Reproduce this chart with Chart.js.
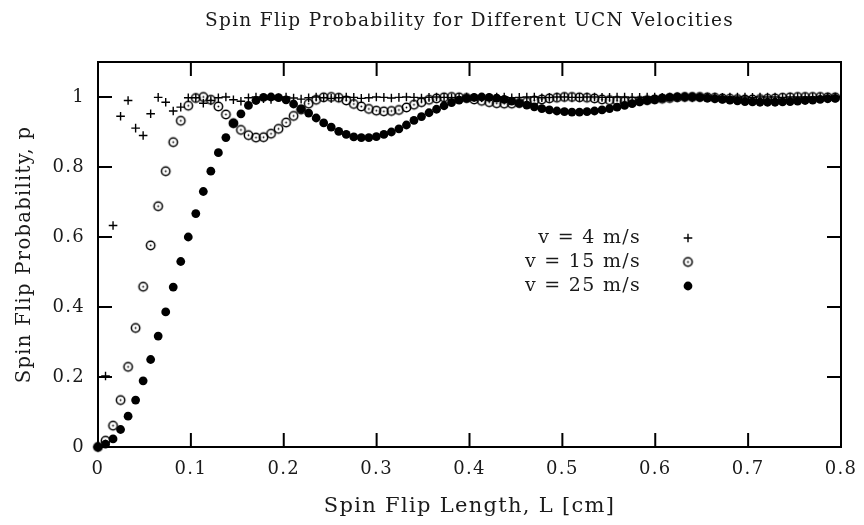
<!DOCTYPE html>
<html><head><meta charset="utf-8">
<script src="https://cdn.jsdelivr.net/npm/chart.js@4/dist/chart.umd.min.js"></script>
<style>html,body{margin:0;padding:0;background:#fff;}canvas{display:block;}</style>
</head><body>
<canvas id="c" width="864" height="525"></canvas>
<script>
// ---- data ----
const lengths = [
  0, 0.0081, 0.0162, 0.0243, 0.0324, 0.0405, 0.0486, 0.0567, 0.0648, 0.0729,
  0.081, 0.0891, 0.0972, 0.1053, 0.1134, 0.1215, 0.1296, 0.1377, 0.1458, 0.1539,
  0.162, 0.1701, 0.1782, 0.1863, 0.1944, 0.2025, 0.2106, 0.2187, 0.2268, 0.2349,
  0.243, 0.2511, 0.2592, 0.2673, 0.2754, 0.2835, 0.2916, 0.2997, 0.3078, 0.3159,
  0.324, 0.3321, 0.3402, 0.3483, 0.3564, 0.3645, 0.3726, 0.3807, 0.3888, 0.3969,
  0.405, 0.4131, 0.4212, 0.4293, 0.4374, 0.4455, 0.4536, 0.4617, 0.4698, 0.4779,
  0.486, 0.4941, 0.5022, 0.5103, 0.5184, 0.5265, 0.5346, 0.5427, 0.5508, 0.5589,
  0.567, 0.5751, 0.5832, 0.5913, 0.5994, 0.6075, 0.6156, 0.6237, 0.6318, 0.6399,
  0.648, 0.6561, 0.6642, 0.6723, 0.6804, 0.6885, 0.6966, 0.7047, 0.7128, 0.7209,
  0.729, 0.7371, 0.7452, 0.7533, 0.7614, 0.7695, 0.7776, 0.7857, 0.7938
];
const prob4 = [
  0, 0.203, 0.633, 0.945, 0.990, 0.911, 0.890, 0.952, 0.999, 0.985,
  0.960, 0.971, 0.998, 0.998, 0.982, 0.990, 0.998, 1.0, 0.992, 0.988,
  0.998, 1.0, 0.995, 0.993, 0.998, 1.0, 0.997, 0.994, 0.998, 1.0,
  0.998, 0.996, 0.998, 1.0, 0.999, 0.996, 0.998, 1.0, 0.999, 0.997,
  0.999, 1.0, 0.999, 0.997, 0.999, 1.0, 0.999, 0.998, 0.999, 1.0,
  0.999, 0.998, 0.999, 1.0, 1.0, 0.998, 0.999, 1.0, 1.0, 0.998,
  0.999, 1.0, 1.0, 0.999, 0.999, 1.0, 1.0, 0.999, 0.999, 1.0,
  1.0, 0.999, 0.999, 1.0, 1.0, 0.999, 1.0, 1.0, 1.0, 0.999,
  1.0, 1.0, 1.0, 0.999, 1.0, 1.0, 1.0, 0.999, 1.0, 1.0,
  1.0, 0.999, 1.0, 1.0, 1.0, 1.0, 1.0, 1.0, 1.0
];
const prob15 = [
  0, 0.018, 0.061, 0.134, 0.229, 0.340, 0.458, 0.576, 0.688, 0.788,
  0.871, 0.932, 0.975, 0.997, 1.0, 0.992, 0.973, 0.950, 0.925, 0.906,
  0.891, 0.884, 0.885, 0.895, 0.909, 0.927, 0.946, 0.964, 0.981, 0.992,
  0.999, 1.0, 0.998, 0.990, 0.980, 0.973, 0.966, 0.961, 0.959, 0.960,
  0.963, 0.970, 0.978, 0.985, 0.992, 0.996, 0.999, 1.0, 0.999, 0.997,
  0.993, 0.989, 0.985, 0.982, 0.981, 0.981, 0.983, 0.986, 0.990, 0.993,
  0.996, 0.998, 1.0, 1.0, 0.999, 0.998, 0.996, 0.993, 0.991, 0.989,
  0.988, 0.988, 0.989, 0.991, 0.993, 0.995, 0.997, 0.999, 1.0, 1.0,
  1.0, 0.999, 0.998, 0.996, 0.995, 0.994, 0.993, 0.993, 0.994, 0.995,
  0.996, 0.998, 0.999, 1.0, 1.0, 1.0, 1.0, 0.999, 0.999
];
const prob25 = [
  0, 0.008, 0.023, 0.050, 0.088, 0.134, 0.189, 0.250, 0.317, 0.386,
  0.457, 0.530, 0.600, 0.667, 0.730, 0.788, 0.841, 0.884, 0.925, 0.952,
  0.976, 0.990, 0.999, 1.0, 0.998, 0.992, 0.980, 0.966, 0.954, 0.940,
  0.926, 0.914, 0.902, 0.893, 0.886, 0.884, 0.884, 0.887, 0.893, 0.900,
  0.909, 0.920, 0.933, 0.944, 0.955, 0.965, 0.975, 0.984, 0.991, 0.996,
  0.999, 1.0, 0.999, 0.997, 0.993, 0.988, 0.982, 0.977, 0.972, 0.967,
  0.963, 0.960, 0.958, 0.957, 0.957, 0.958, 0.960, 0.963, 0.967, 0.971,
  0.976, 0.981, 0.986, 0.990, 0.994, 0.997, 0.999, 1.0, 1.0, 1.0,
  0.999, 0.997, 0.995, 0.993, 0.991, 0.989, 0.987, 0.986, 0.985, 0.985,
  0.985, 0.986, 0.987, 0.988, 0.990, 0.991, 0.993, 0.995, 0.996
];
const seriesLabels = ['v = 4 m/s', 'v = 15 m/s', 'v = 25 m/s'];
const xTickValues = [0, 0.1, 0.2, 0.3, 0.4, 0.5, 0.6, 0.7, 0.8];
const yTickValues = [0, 0.2, 0.4, 0.6, 0.8, 1];
const chartTitle = 'Spin Flip Probability for Different UCN Velocities';
const xAxisTitle = 'Spin Flip Length, L [cm]';
const yAxisTitle = 'Spin Flip Probability, p';

// ---- styling ----
const FONT_FAMILY = "'DejaVu Serif', serif";
const INK = '#1a1a1a';
const SPACING = '1.3px';

function toPoints(xs, ys) { return xs.map((x, i) => ({x: x, y: ys[i]})); }

function makeDotCircle() {
  const c = document.createElement('canvas');
  c.width = 13; c.height = 13;
  const g = c.getContext('2d');
  g.strokeStyle = '#000'; g.lineWidth = 1.5;
  g.beginPath(); g.arc(6.5, 6.5, 4.2, 0, Math.PI * 2); g.stroke();
  g.fillStyle = '#000';
  g.beginPath(); g.arc(6.5, 6.5, 0.9, 0, Math.PI * 2); g.fill();
  return c;
}
const dotCircle = makeDotCircle();

const spacingPlugin = {
  id: 'spacing',
  beforeUpdate(chart) { chart.ctx.letterSpacing = SPACING; },
  beforeDraw(chart) { chart.ctx.letterSpacing = SPACING; }
};

const frameTicks = {
  id: 'frameTicks',
  beforeDatasetsDraw(chart) {
    const {ctx, chartArea: a, scales: {x, y}} = chart;
    ctx.save();
    ctx.strokeStyle = '#000';
    ctx.lineWidth = 2;
    const L = 14;
    ctx.beginPath();
    xTickValues.forEach(v => {
      const px = x.getPixelForValue(v);
      ctx.moveTo(px, a.bottom); ctx.lineTo(px, a.bottom - L);
      ctx.moveTo(px, a.top); ctx.lineTo(px, a.top + L);
    });
    yTickValues.forEach(v => {
      const py = y.getPixelForValue(v);
      ctx.moveTo(a.left, py); ctx.lineTo(a.left + L, py);
      ctx.moveTo(a.right, py); ctx.lineTo(a.right - L, py);
    });
    ctx.stroke();
    ctx.strokeRect(a.left, a.top, a.right - a.left, a.bottom - a.top);
    ctx.restore();
  }
};

const keyBox = {
  id: 'keyBox',
  afterDatasetsDraw(chart) {
    const {ctx} = chart;
    const textRight = 641, markX = 688, rows = [238, 262, 286];
    ctx.save();
    ctx.letterSpacing = SPACING;
    ctx.font = "19px " + FONT_FAMILY;
    ctx.textAlign = 'right';
    ctx.textBaseline = 'middle';
    chart.data.datasets.forEach((ds, i) => {
      ctx.fillStyle = INK;
      ctx.fillText(ds.label, textRight, rows[i]);
      const ps = ds.pointStyle;
      ctx.fillStyle = '#000'; ctx.strokeStyle = '#000';
      ctx.lineWidth = ds.pointBorderWidth || 1;
      if (typeof ps === 'object') {
        ctx.drawImage(ps, markX - ps.width / 2, rows[i] - ps.height / 2);
      } else if (ps === 'cross') {
        const r = ds.pointRadius;
        ctx.beginPath();
        ctx.moveTo(markX - r, rows[i]); ctx.lineTo(markX + r, rows[i]);
        ctx.moveTo(markX, rows[i] - r); ctx.lineTo(markX, rows[i] + r);
        ctx.stroke();
      } else {
        ctx.beginPath(); ctx.arc(markX, rows[i], ds.pointRadius, 0, Math.PI * 2); ctx.fill();
      }
    });
    ctx.restore();
  }
};

function fmt(v) { return String(Number(v.toFixed(2))); }

new Chart(document.getElementById('c'), {
  type: 'scatter',
  data: {
    datasets: [
      { label: seriesLabels[0], data: toPoints(lengths, prob4), pointStyle: 'cross',
        pointRadius: 4.3, pointBorderWidth: 1.4, borderColor: '#000', backgroundColor: '#000',
        pointHoverRadius: 4.3, order: 0, clip: false },
      { label: seriesLabels[1], data: toPoints(lengths, prob15), pointStyle: dotCircle,
        pointRadius: 4.3, pointBorderWidth: 1.5, borderColor: '#000', backgroundColor: 'rgba(0,0,0,0)',
        pointHoverRadius: 4.3, order: 2, clip: false },
      { label: seriesLabels[2], data: toPoints(lengths, prob25), pointStyle: 'circle',
        pointRadius: 4.4, pointBorderWidth: 0, borderColor: '#000', backgroundColor: '#000',
        pointHoverRadius: 4.4, order: 1, clip: false }
    ]
  },
  options: {
    responsive: false,
    animation: false,
    devicePixelRatio: 1,
    layout: { padding: { left: 0, right: 23, top: 0, bottom: 0 } },
    plugins: {
      legend: { display: false },
      tooltip: { enabled: false },
      title: {
        display: true, text: chartTitle, fullSize: false, color: INK,
        font: { family: FONT_FAMILY, size: 18.5, weight: 'normal', lineHeight: 1.2 },
        padding: { top: 10.5, bottom: 29.3 }
      }
    },
    scales: {
      x: {
        type: 'linear', min: 0, max: 0.8,
        grid: { display: false, drawTicks: false },
        border: { display: false },
        afterBuildTicks(s) { s.ticks = xTickValues.map(v => ({value: v})); },
        afterFit(s) { s.height = 78; s.paddingLeft = 0; s.paddingRight = 0; s.paddingTop = 0; s.paddingBottom = 0; },
        ticks: { color: INK, padding: 12, maxRotation: 0, autoSkip: false,
          font: { family: FONT_FAMILY, size: 18, lineHeight: 1.2 }, callback: v => fmt(v) },
        title: { display: true, text: xAxisTitle, color: INK,
          font: { family: FONT_FAMILY, size: 21, lineHeight: 1.2 }, padding: { top: 0, bottom: 5.5 } }
      },
      y: {
        type: 'linear', min: 0, max: 1.1,
        grid: { display: false, drawTicks: false },
        border: { display: false },
        afterBuildTicks(s) { s.ticks = yTickValues.map(v => ({value: v})); },
        afterFit(s) { s.width = 98; s.paddingLeft = 0; s.paddingRight = 0; s.paddingTop = 0; s.paddingBottom = 0; },
        ticks: { color: INK, padding: 13, autoSkip: false,
          font: { family: FONT_FAMILY, size: 18, lineHeight: 1.2 }, callback: v => fmt(v) },
        title: { display: true, text: yAxisTitle, color: INK,
          font: { family: FONT_FAMILY, size: 19.5, lineHeight: 1.2 }, padding: { top: 13, bottom: 0 } }
      }
    }
  },
  plugins: [spacingPlugin, frameTicks, keyBox]
});
</script>
</body></html>
